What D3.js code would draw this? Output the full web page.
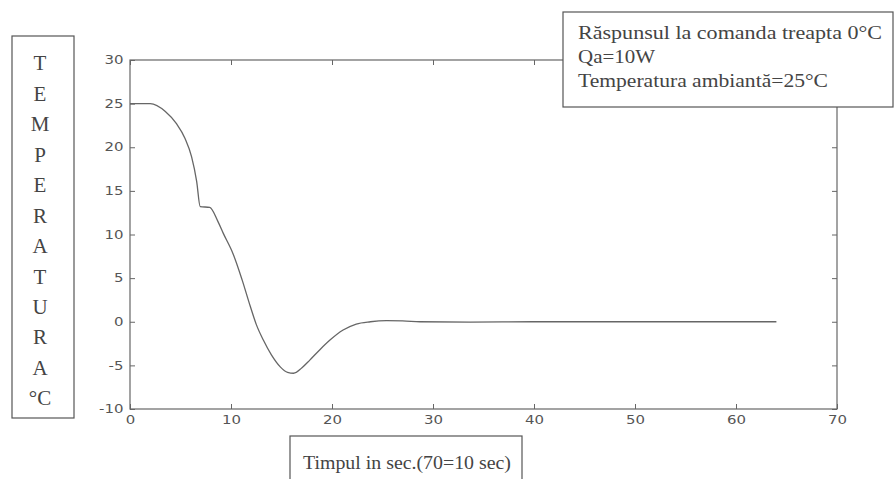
<!DOCTYPE html>
<html>
<head>
<meta charset="utf-8">
<script src="https://cdn.jsdelivr.net/npm/d3@7"></script>
<style>
  body { margin: 0; background: #fff; }
  .tick text { font-family: "DejaVu Sans", sans-serif; fill: #555; }
  .box text { font-family: "Liberation Serif", "Times New Roman", serif; fill: #444; }
</style>
</head>
<body>
<div id="chart"></div>
<script>
// time (sec, scaled) and temperature
const timeValues = [0, 2, 3.5, 4.6, 5.45, 6.1, 6.6, 6.95, 7.9, 8.7, 9.25, 10.2, 11.1, 11.9, 12.5,
  13.2, 14.0, 14.9, 15.6, 16.2, 17.0, 17.8, 18.8, 19.8, 21.1, 22.4, 23.8, 25.4, 27, 28.7,
  33.7, 40, 50, 57, 64];
const tempValues = [25, 25, 24.1, 22.7, 21.0, 18.9, 16.1, 13.2, 13.1, 11.5, 10.1, 7.8, 4.8, 1.8, -0.3,
  -2.1, -3.8, -5.2, -5.8, -5.9, -5.3, -4.4, -3.2, -2.1, -0.95, -0.26, 0, 0.12, 0.1, 0,
  -0.05, 0, 0, 0, 0];
const xTicks = [0, 10, 20, 30, 40, 50, 60, 70];
const yTicks = [-10, -5, 0, 5, 10, 15, 20, 25, 30];
const yLetters = ["T", "E", "M", "P", "E", "R", "A", "T", "U", "R", "A", "°C"];
const legendLines = ["Răspunsul la comanda treapta  0°C", "Qa=10W", "Temperatura ambiantă=25°C"];
const xLabel = "Timpul in sec.(70=10 sec)";

const width = 895, height = 479;
const plot = { left: 130, right: 837, top: 60, bottom: 409 };

const svg = d3.select("#chart").append("svg")
  .attr("width", width)
  .attr("height", height);

const xScale = d3.scaleLinear().domain([0, 70]).range([plot.left, plot.right]);
const yScale = d3.scaleLinear().domain([-10, 30]).range([plot.bottom, plot.top]);

// frame
svg.append("rect")
  .attr("x", plot.left).attr("y", plot.top)
  .attr("width", plot.right - plot.left).attr("height", plot.bottom - plot.top)
  .attr("fill", "none").attr("stroke", "#666").attr("stroke-width", 1.2);

// axes, ticks pointing inwards
const fmt = (d) => String(d);
const bottomAxis = svg.append("g")
  .attr("transform", `translate(0,${plot.bottom})`)
  .call(d3.axisBottom(xScale).tickValues(xTicks).tickFormat(fmt).tickSize(-5).tickPadding(7));
const leftAxis = svg.append("g")
  .attr("transform", `translate(${plot.left},0)`)
  .call(d3.axisLeft(yScale).tickValues(yTicks).tickFormat(fmt).tickSize(-5).tickPadding(5));
svg.append("g")
  .attr("transform", `translate(0,${plot.top})`)
  .call(d3.axisTop(xScale).tickValues(xTicks).tickFormat("").tickSize(-5));
svg.append("g")
  .attr("transform", `translate(${plot.right},0)`)
  .call(d3.axisRight(yScale).tickValues(yTicks).tickFormat("").tickSize(-5));

svg.selectAll(".domain").remove();
svg.selectAll(".tick line").attr("stroke", "#666");
// the scanned digits are wide, so stretch them a little
bottomAxis.selectAll("text").attr("font-size", 11.5).attr("transform", "scale(1.3,1)");
leftAxis.selectAll("text").attr("font-size", 11.5).attr("transform", "scale(1.3,1)");

// curve
const line = d3.line()
  .x((d) => xScale(d[0]))
  .y((d) => yScale(d[1]))
  .curve(d3.curveMonotoneX);

svg.append("path")
  .datum(d3.zip(timeValues, tempValues))
  .attr("d", line)
  .attr("fill", "none")
  .attr("stroke", "#666")
  .attr("stroke-width", 1.3);

// legend box
const legend = svg.append("g").attr("class", "box");
legend.append("rect")
  .attr("x", 563).attr("y", 12).attr("width", 330).attr("height", 95)
  .attr("fill", "#fff").attr("stroke", "#555").attr("stroke-width", 1.2);
const legendLen = [304, 77, 250];
legend.selectAll("text.leg")
  .data(legendLines)
  .join("text")
  .attr("class", "leg")
  .attr("x", 578)
  .attr("y", (d, i) => 39 + i * 24)
  .attr("font-size", 18)
  .attr("textLength", (d, i) => legendLen[i])
  .attr("lengthAdjust", "spacingAndGlyphs")
  .text((d) => d);

// y label box
const yBox = svg.append("g").attr("class", "box");
yBox.append("rect")
  .attr("x", 12).attr("y", 36).attr("width", 62).attr("height", 382)
  .attr("fill", "none").attr("stroke", "#555").attr("stroke-width", 1.2);
yBox.selectAll("text")
  .data(yLetters)
  .join("text")
  .attr("x", 40)
  .attr("y", (d, i) => 63 + i * 30.45)
  .attr("dy", "0.35em")
  .attr("text-anchor", "middle")
  .attr("font-size", 21)
  .text((d) => d);

// x label box
const xBox = svg.append("g").attr("class", "box");
xBox.append("rect")
  .attr("x", 290).attr("y", 436).attr("width", 232).attr("height", 60)
  .attr("fill", "none").attr("stroke", "#555").attr("stroke-width", 1.2);
xBox.append("text")
  .attr("x", 303).attr("y", 469)
  .attr("font-size", 18)
  .attr("textLength", 208)
  .attr("lengthAdjust", "spacingAndGlyphs")
  .text(xLabel);
</script>
</body>
</html>
